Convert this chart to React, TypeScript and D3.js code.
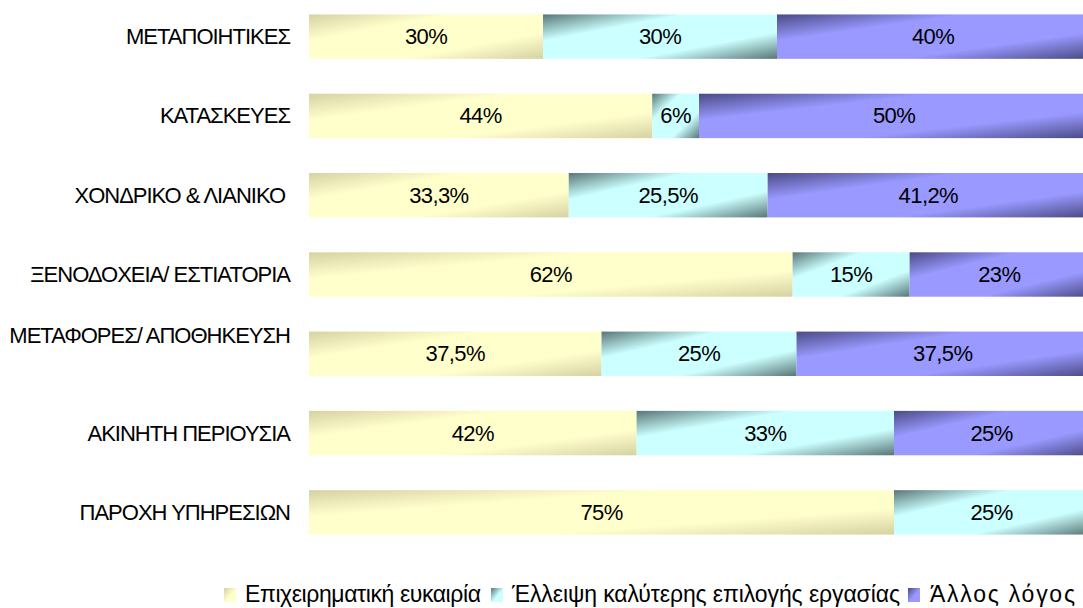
import React from "react";
import * as d3 from "d3";

const categories = [
  "ΜΕΤΑΠΟΙΗΤΙΚΕΣ",
  "ΚΑΤΑΣΚΕΥΕΣ",
  "ΧΟΝΔΡΙΚΟ & ΛΙΑΝΙΚΟ",
  "ΞΕΝΟΔΟΧΕΙΑ/ ΕΣΤΙΑΤΟΡΙΑ",
  "ΜΕΤΑΦΟΡΕΣ/ ΑΠΟΘΗΚΕΥΣΗ",
  "ΑΚΙΝΗΤΗ ΠΕΡΙΟΥΣΙΑ",
  "ΠΑΡΟΧΗ ΥΠΗΡΕΣΙΩΝ",
];
const opportunity = [30, 44, 33.3, 62, 37.5, 42, 75];
const lackOfJob = [30, 6, 25.5, 15, 25, 33, 25];
const otherReason = [40, 50, 41.2, 23, 37.5, 25, 0];
const seriesNames = [
  "Επιχειρηματική ευκαιρία",
  "Έλλειψη καλύτερης επιλογής εργασίας",
  "Άλλος λόγος",
];

const seriesValues = [opportunity, lackOfJob, otherReason];
const palettes = [
  { light: "#FFFFCC", dark: "#D6D2A2" },
  { light: "#CCFFFF", dark: "#587676" },
  { light: "#9999FF", dark: "#4A4A84" },
];

const W = 1083;
const H = 608;
const FONT = "'Liberation Sans', Arial, sans-serif";

const fmt = (v: number) => String(v).replace(".", ",") + "%";

export default function App() {
  const x = d3.scaleLinear().domain([0, 100]).range([309, 1089]);
  const y = d3
    .scaleBand<string>()
    .domain(categories)
    .range([-3, 552])
    .paddingInner(0.44)
    .paddingOuter(0.22);

  const rows = categories.map((c, i) => {
    let acc = 0;
    const segs = seriesValues.map((vals, s) => {
      const v = vals[i];
      const seg = { s, x0: acc, x1: acc + v, v };
      acc += v;
      return seg;
    });
    return { c, i, segs };
  });

  const legendItems = [
    { swatch: 224, text: 245, len: 236 },
    { swatch: 491, text: 512, len: 388 },
    { swatch: 908, text: 930, len: 145 },
  ];

  return (
    <svg
      width={W}
      height={H}
      style={{ position: "absolute", left: 0, top: 0, background: "#fff" }}
      fontFamily={FONT}
    >
      <defs>
        {palettes.map((p, k) => (
          <linearGradient key={k} id={`g${k}`} x1="0" y1="0" x2="1" y2="1">
            <stop offset="0" stopColor={p.dark} />
            <stop offset="0.3" stopColor={p.light} />
            <stop offset="0.7" stopColor={p.light} />
            <stop offset="1" stopColor={p.dark} />
          </linearGradient>
        ))}
        {palettes.map((p, k) => (
          <linearGradient key={`s${k}`} id={`s${k}`} x1="0" y1="0" x2="1" y2="1">
            <stop offset="0" stopColor={p.dark} />
            <stop offset="0.55" stopColor={p.light} />
            <stop offset="1" stopColor={p.light} />
          </linearGradient>
        ))}
      </defs>
      <rect x={0} y={0} width={W} height={H} fill="#fff" />
      {rows.map((r) => {
        const y0 = y(r.c)!;
        const bh = y.bandwidth();
        const labelY = r.i === 4 ? y0 + bh / 2 - 18 : y0 + bh / 2;
        const labelX = r.i === 2 ? 285 : 290;
        return (
          <g key={r.c}>
            <text
              x={labelX}
              y={labelY}
              textAnchor="end"
              dominantBaseline="central"
              fontSize={22}
              letterSpacing={-1}
              fill="#000"
            >
              {r.c}
            </text>
            {r.segs
              .filter((sg) => sg.v > 0)
              .map((sg) => (
                <g key={sg.s}>
                  <rect
                    x={x(sg.x0)}
                    y={y0}
                    width={x(sg.x1) - x(sg.x0)}
                    height={bh}
                    fill={`url(#g${sg.s})`}
                  />
                  <text
                    x={(x(sg.x0) + x(sg.x1)) / 2}
                    y={y0 + bh / 2}
                    textAnchor="middle"
                    dominantBaseline="central"
                    fontSize={22}
                    letterSpacing={-0.6}
                    fill="#000"
                  >
                    {fmt(sg.v)}
                  </text>
                </g>
              ))}
          </g>
        );
      })}
      {legendItems.map((l, k) => (
        <g key={k}>
          <rect
            x={l.swatch}
            y={588}
            width={12}
            height={14}
            fill={`url(#s${k})`}
          />
          <text
            x={l.text}
            y={594}
            dominantBaseline="central"
            fontSize={23}
            textLength={l.len}
            lengthAdjust="spacing"
            fill="#000"
          >
            {seriesNames[k]}
          </text>
        </g>
      ))}
    </svg>
  );
}
